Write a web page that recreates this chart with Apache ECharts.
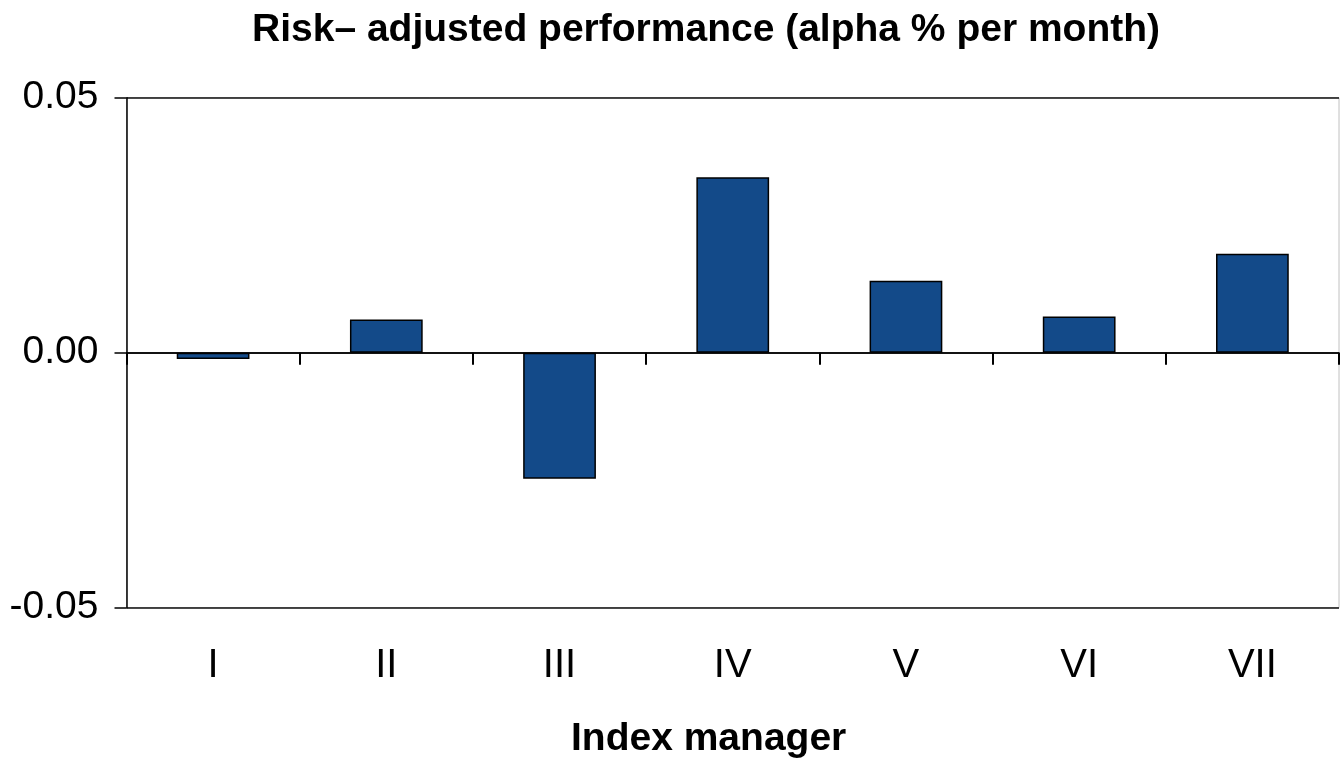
<!DOCTYPE html>
<html>
<head>
<meta charset="utf-8">
<script src="https://cdn.jsdelivr.net/npm/echarts@6/dist/echarts.min.js"></script>
<style>html,body{margin:0;padding:0;background:#fff}#c{width:1340px;height:760px}</style>
</head>
<body>
<div id="c"></div>
<script>
const categories = ['I', 'II', 'III', 'IV', 'V', 'VI', 'VII'];
const alphaValues = [-0.00125, 0.0065, -0.0247, 0.0344, 0.0141, 0.0071, 0.0194];
const yTicks = { min: -0.05, max: 0.05, interval: 0.05 };
const titleText = 'Risk\u2013 adjusted performance (alpha % per month)';
const xAxisTitle = 'Index manager';

const chart = echarts.init(document.getElementById('c'), null, { renderer: 'canvas' });
const font = 'Liberation Sans, Arial, sans-serif';
chart.setOption({
  animation: false,
  backgroundColor: '#fff',
  title: [
    { text: titleText, left: 247, top: 6,
      textStyle: { fontFamily: font, fontSize: 39, fontWeight: 'bold', color: '#000' } },
    { text: xAxisTitle, left: 566, top: 715,
      textStyle: { fontFamily: font, fontSize: 39, fontWeight: 'bold', color: '#000' } }
  ],
  grid: { left: 126.5, right: 1, top: 97.7, bottom: 152.3, show: true, borderColor: '#c0c0c0', borderWidth: 1 },
  xAxis: [
    { type: 'category', data: categories, position: 'bottom',
      axisLine: { onZero: true, lineStyle: { color: '#000', width: 1.5 } },
      axisTick: { show: true, length: 12, lineStyle: { color: '#000', width: 2 } },
      axisLabel: { show: false } },
    { type: 'category', data: categories, position: 'bottom',
      axisLine: { show: false, onZero: false }, axisTick: { show: false },
      axisLabel: { show: true, margin: 38, fontFamily: font, fontSize: 40, color: '#000' } }
  ],
  yAxis: {
    type: 'value', min: yTicks.min, max: yTicks.max, interval: yTicks.interval,
    axisLine: { show: true, lineStyle: { color: '#000', width: 1.5 } },
    axisTick: { show: true, length: 12, lineStyle: { color: '#000', width: 1.5 } },
    splitLine: { show: true, lineStyle: { color: '#111', width: 1.5 } },
    axisLabel: { margin: 28, fontFamily: font, fontSize: 39, color: '#000',
      formatter: v => v.toFixed(2) }
  },
  series: [{
    type: 'bar', data: alphaValues, xAxisIndex: 0, barWidth: '42%',
    itemStyle: { color: '#134a89', borderColor: '#000', borderWidth: 1.5 }
  }]
});
</script>
</body>
</html>
